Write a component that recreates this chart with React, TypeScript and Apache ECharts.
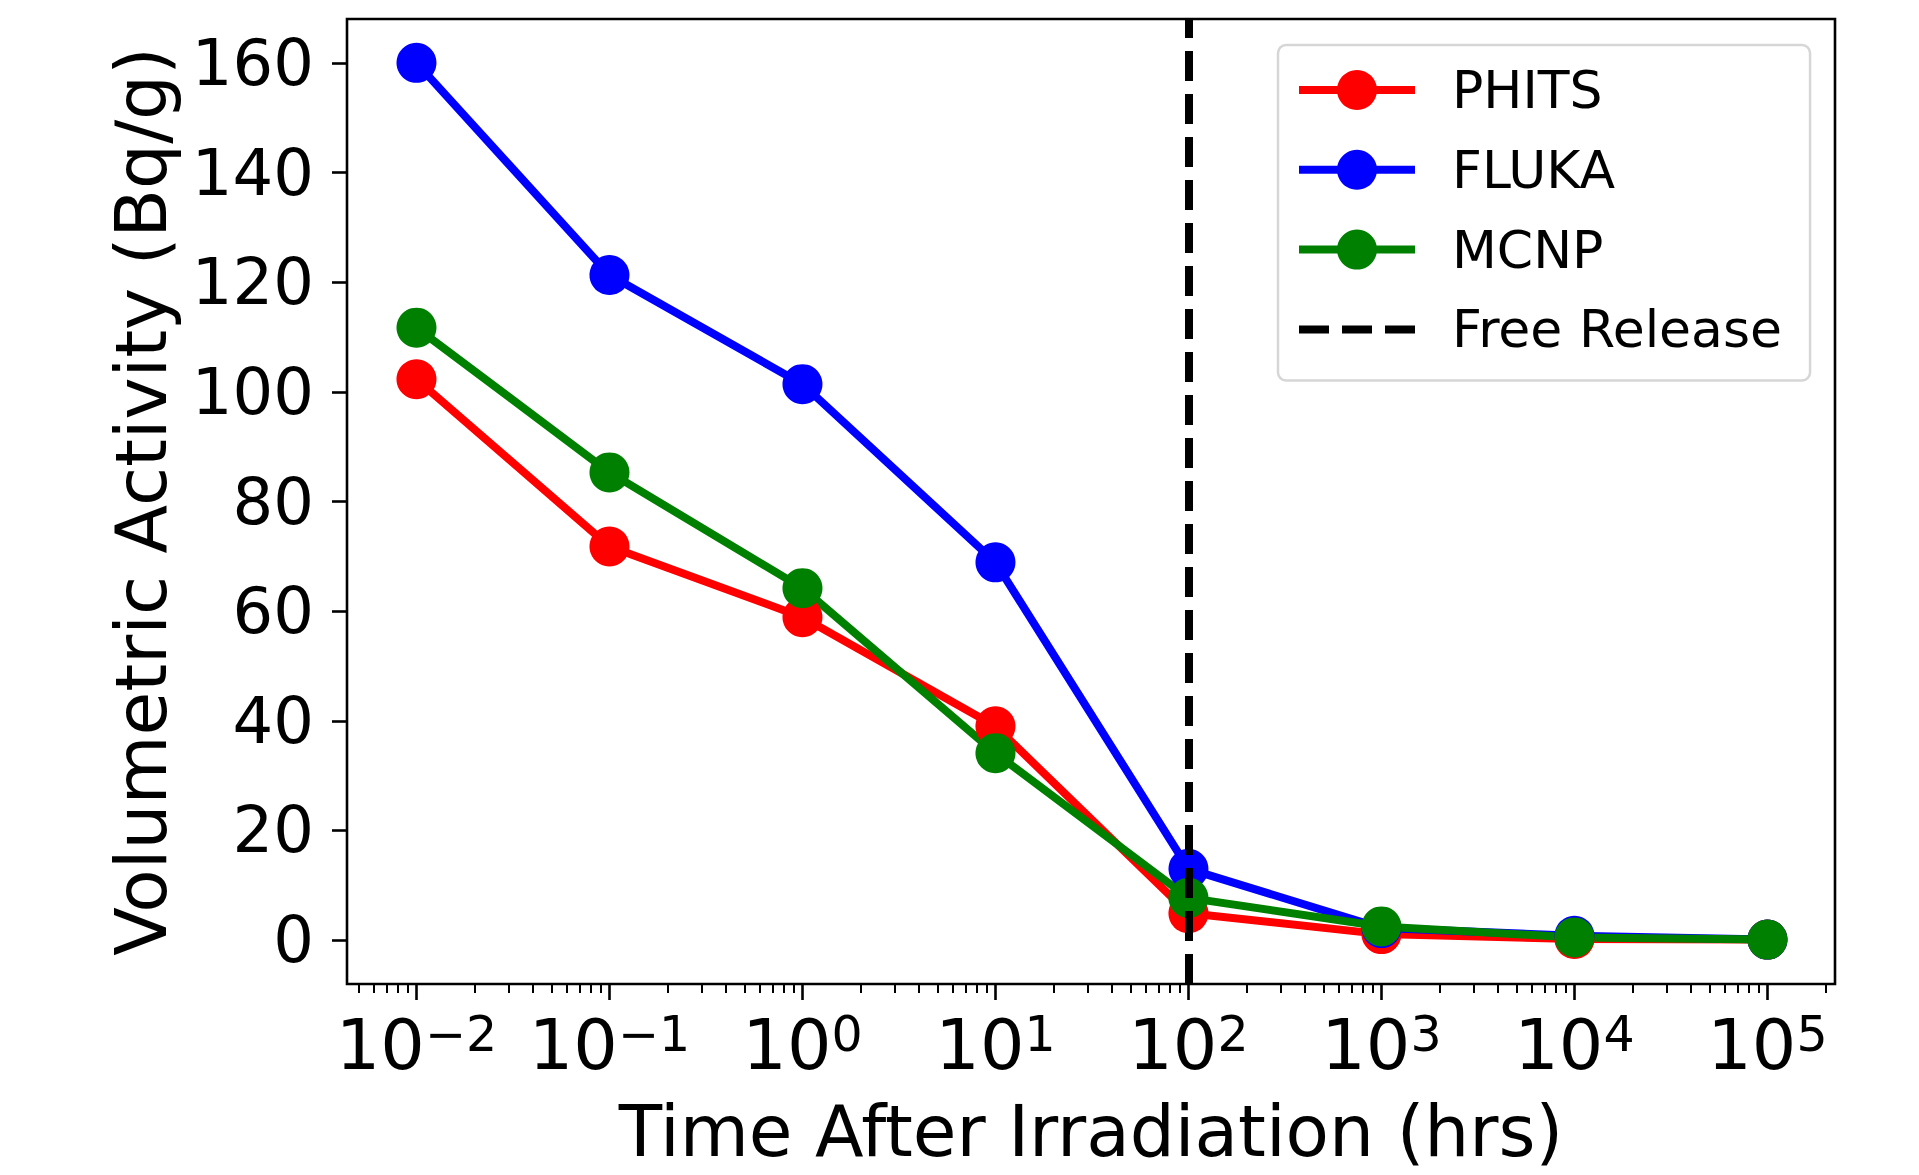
import React, { useEffect, useRef } from 'react';
import * as echarts from 'echarts';

// ---- data ----
const times = [0.01, 0.1, 1, 10, 100, 1000, 10000, 100000];
const phits = [102.3, 71.8, 58.9, 39.0, 4.9, 1.1, 0.2, 0.1];
const fluka = [160.0, 121.3, 101.4, 68.9, 13.0, 2.2, 0.8, 0.1];
const mcnp = [111.7, 85.3, 64.2, 34.1, 7.7, 2.5, 0.5, 0.1];
const freeReleaseTime = 100;

const seriesNames = ['PHITS', 'FLUKA', 'MCNP', 'Free Release'];
const seriesColors = ['#ff0000', '#0000ff', '#008000', '#000000'];

const xTickValues = [0.01, 0.1, 1, 10, 100, 1000, 10000, 100000];
const xTickExponents = ['\u22122', '\u22121', '0', '1', '2', '3', '4', '5'];
const xMinorMultipliers = [2, 3, 4, 5, 6, 7, 8, 9];
const xMinorDecades = [0.001, 0.01, 0.1, 1, 10, 100, 1000, 10000, 100000];
const yTickValues = [0, 20, 40, 60, 80, 100, 120, 140, 160];

const xTitle = 'Time After Irradiation (hrs)';
const yTitle = 'Volumetric Activity (Bq/g)';

const X_MIN = Math.pow(10, -2.36);
const X_MAX = Math.pow(10, 5.35);
const Y_MIN = -8;
const Y_MAX = 168;

const FONT = 'DejaVu Sans';

const xMinorTicks: number[] = [];
xMinorDecades.forEach((d) => {
  xMinorMultipliers.forEach((m) => {
    const v = d * m;
    if (v >= X_MIN && v <= X_MAX) xMinorTicks.push(v);
  });
});

export default function App() {
  const ref = useRef<HTMLDivElement>(null);

  useEffect(() => {
    if (!ref.current) return;
    const chart = echarts.init(ref.current, undefined, { renderer: 'svg' });

    const pair = (ys: number[]) => times.map((t, i) => [t, ys[i]]);
    const dataSets = [phits, fluka, mcnp];

    const lineSeries = dataSets.map((ys, i) => ({
      name: seriesNames[i],
      type: 'line',
      data: pair(ys),
      symbol: 'circle',
      symbolSize: 40,
      lineStyle: { color: seriesColors[i], width: 8 },
      itemStyle: { color: seriesColors[i] },
      z: 3,
    }));

    const option: any = {
      animation: false,
      backgroundColor: '#ffffff',
      grid: {
        left: 347,
        top: 19,
        width: 1488,
        height: 965,
        show: true,
        borderColor: '#000',
        borderWidth: 2.6,
        backgroundColor: 'transparent',
        z: 10,
      },
      legend: {
        orient: 'vertical',
        left: 1278,
        top: 45,
        padding: [19, 28, 25, 17],
        itemWidth: 116,
        itemHeight: 50,
        itemGap: 27.8,
        borderColor: '#d6d6d6',
        borderWidth: 2.5,
        borderRadius: 8,
        backgroundColor: 'rgba(255,255,255,0.8)',
        data: seriesNames,
        selectedMode: false,
        lineStyle: { width: 8 },
        textStyle: {
          fontFamily: FONT,
          fontSize: 52,
          color: '#000',
          padding: [0, 0, 0, 32],
        },
        z: 20,
      },
      xAxis: [
        {
          type: 'log',
          logBase: 10,
          min: X_MIN,
          max: X_MAX,
          position: 'bottom',
          axisLine: { show: false, onZero: false },
          splitLine: { show: false },
          axisTick: {
            show: true,
            length: 16,
            lineStyle: { color: '#000', width: 2.6 },
            customValues: xTickValues,
          },
          axisLabel: {
            show: true,
            margin: 26,
            customValues: xTickValues,
            formatter: (value: number) => {
              const i = xTickValues.findIndex(
                (v) => Math.abs(Math.log10(v) - Math.log10(value)) < 1e-6
              );
              return `{b|10}{s|${xTickExponents[i]}}`;
            },
            rich: {
              b: { fontFamily: FONT, fontSize: 70, lineHeight: 70, color: '#000' },
              s: {
                fontFamily: FONT,
                fontSize: 49,
                lineHeight: 32,
                verticalAlign: 'top',
                color: '#000',
              },
            },
          },
          name: xTitle,
          nameLocation: 'middle',
          nameGap: 112,
          nameTextStyle: { fontFamily: FONT, fontSize: 71, color: '#000' },
        },
        {
          type: 'log',
          logBase: 10,
          min: X_MIN,
          max: X_MAX,
          position: 'bottom',
          gridIndex: 0,
          axisLine: { show: false, onZero: false },
          splitLine: { show: false },
          axisLabel: { show: false },
          axisTick: {
            show: true,
            length: 9,
            lineStyle: { color: '#000', width: 2 },
            customValues: xMinorTicks,
          },
        },
      ],
      yAxis: {
        type: 'value',
        min: Y_MIN,
        max: Y_MAX,
        axisLine: { show: false, onZero: false },
        splitLine: { show: false },
        axisTick: {
          show: true,
          length: 15,
          lineStyle: { color: '#000', width: 2.6 },
          customValues: yTickValues,
        },
        axisLabel: {
          show: true,
          margin: 33,
          customValues: yTickValues,
          fontFamily: FONT,
          fontSize: 64,
          color: '#000',
        },
        name: yTitle,
        nameLocation: 'middle',
        nameGap: 170,
        nameTextStyle: { fontFamily: FONT, fontSize: 71, color: '#000' },
      },
      series: [
        ...lineSeries,
        {
          name: seriesNames[3],
          type: 'line',
          data: [],
          symbol: 'none',
          lineStyle: { color: '#000', width: 8, type: [30, 13] },
          itemStyle: { color: 'rgba(0,0,0,0)', opacity: 0 },
          z: 5,
          markLine: {
            silent: true,
            symbol: 'none',
            label: { show: false },
            lineStyle: { color: '#000', width: 8, type: [30, 13] },
            data: [{ xAxis: freeReleaseTime }],
            z: 5,
          },
        },
      ],
    };

    chart.setOption(option);
    return () => {
      chart.dispose();
    };
  }, []);

  return (
    <div
      ref={ref}
      style={{
        position: 'fixed',
        left: 0,
        top: 0,
        width: 1919,
        height: 1175,
        background: '#fff',
      }}
    />
  );
}
